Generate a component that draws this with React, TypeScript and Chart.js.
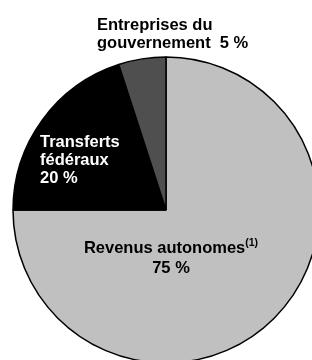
import React, { useEffect, useRef } from "react";
import { Chart, registerables } from "chart.js";

Chart.register(...registerables);

const categories = ["Revenus autonomes", "Transferts fédéraux", "Entreprises du gouvernement"];
const values = [75, 20, 5];
const sliceColors = ["#c0c0c0", "#000000", "#4f4f4f"];

const FONT = '"Liberation Sans", Arial, sans-serif';

const labelPlugin = {
  id: "sliceLabels",
  afterDraw(chart: any) {
    const ctx = chart.ctx as CanvasRenderingContext2D;
    const arc = chart.getDatasetMeta(0).data[0];
    if (!arc) return;
    const cx = arc.x;
    const cy = arc.y;
    ctx.save();
    ctx.textBaseline = "alphabetic";
    ctx.font = `bold 16.5px ${FONT}`;

    // Entreprises du gouvernement (outside, top)
    ctx.fillStyle = "#000000";
    ctx.textAlign = "left";
    ctx.fillText("Entreprises du", cx - 69, cy - 180);
    ctx.fillText(`gouvernement  ${values[2]} %`, cx - 69, cy - 162);

    // Transferts fédéraux (inside black slice)
    ctx.fillStyle = "#ffffff";
    ctx.fillText("Transferts", cx - 126, cy - 63);
    ctx.fillText("fédéraux", cx - 126, cy - 45);
    ctx.fillText(`${values[1]} %`, cx - 126, cy - 27);

    // Revenus autonomes (inside grey slice)
    ctx.fillStyle = "#000000";
    const main = "Revenus autonomes";
    const sup = "(1)";
    const wMain = ctx.measureText(main).width;
    ctx.font = `bold 10.5px ${FONT}`;
    const wSup = ctx.measureText(sup).width;
    const centerX = cx + 5;
    const startX = centerX - (wMain + wSup) / 2;
    ctx.font = `bold 16.5px ${FONT}`;
    ctx.fillText(main, startX, cy + 43);
    ctx.font = `bold 10.5px ${FONT}`;
    ctx.fillText(sup, startX + wMain, cy + 36);
    ctx.font = `bold 16.5px ${FONT}`;
    ctx.textAlign = "center";
    ctx.fillText(`${values[0]} %`, centerX, cy + 63);
    ctx.restore();
  },
};

export default function App() {
  const ref = useRef<HTMLCanvasElement | null>(null);
  useEffect(() => {
    if (!ref.current) return;
    const chart = new Chart(ref.current, {
      type: "pie",
      data: {
        labels: categories,
        datasets: [
          {
            data: values,
            backgroundColor: sliceColors,
            borderColor: "#000000",
            borderWidth: 1.5,
          },
        ],
      },
      options: {
        responsive: false,
        animation: false,
        radius: 153,
        layout: { padding: 0 },
        plugins: {
          legend: { display: false },
          tooltip: { enabled: false },
        },
      },
      plugins: [labelPlugin],
    });
    return () => chart.destroy();
  }, []);
  return (
    <div
      style={{
        position: "fixed",
        left: 0,
        top: 0,
        width: 312,
        height: 360,
        overflow: "hidden",
        background: "#ffffff",
      }}
    >
      <canvas ref={ref} width={332} height={420} style={{ display: "block", width: 332, height: 420 }} />
    </div>
  );
}
